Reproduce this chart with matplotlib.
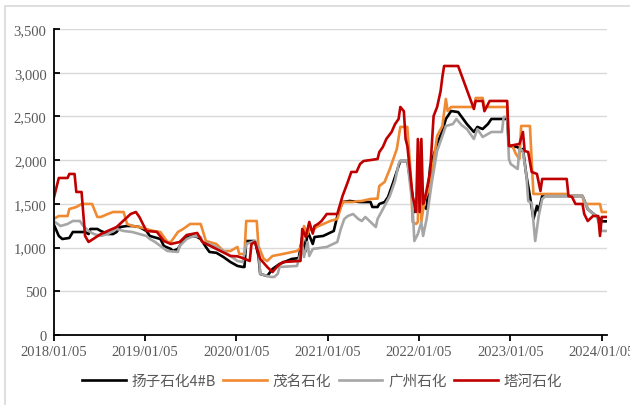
import numpy as np
import pandas as pd
import matplotlib
matplotlib.use("Agg")
import matplotlib.pyplot as plt
import matplotlib.dates as mdates
from matplotlib.patches import Rectangle

# weekly series, x = week number counted from 2018/01/05
start = pd.Timestamp("2018-01-05")

yz_weeks = [0, 3, 5, 9, 11, 18, 20, 21, 25, 27, 31, 34, 36, 38, 42, 45, 49, 53, 55, 57, 61, 63, 67, 68, 71,
            72, 74, 76, 80, 82, 84, 87, 89, 93, 97, 101, 105, 108, 109, 110, 115, 117, 118, 122, 125, 129,
            136, 140, 142, 144, 145, 148, 149, 154, 160, 162, 165, 169, 175, 181, 182, 185, 186, 189, 191,
            194, 197, 198, 202, 205, 206, 208, 211, 213, 215, 219, 222, 224, 227, 231, 236, 240, 242, 245,
            248, 250, 259, 260, 265, 267, 268, 270, 272, 274, 276, 277, 279, 302, 305, 307, 312, 313, 316]
yz_vals = [1270, 1133, 1098, 1110, 1178, 1178, 1155, 1213, 1213, 1190, 1155, 1155, 1178, 1235, 1247, 1247,
           1235, 1190, 1133, 1121, 1098, 1018, 984, 961, 984, 1018, 1075, 1121, 1133, 1121, 1098, 1007, 950,
           940, 892, 835, 790, 778, 778, 1075, 1075, 904, 698, 675, 755, 812, 870, 880, 1121, 961, 1190,
           1041, 1121, 1133, 1190, 1361, 1521, 1533, 1521, 1521, 1464, 1464, 1499, 1521, 1579, 1750, 1933,
           1990, 1990, 1590, 1407, 1441, 1476, 1441, 1922, 2185, 2334, 2471, 2562, 2550, 2413, 2322, 2380,
           2356, 2413, 2471, 2471, 2162, 2150, 2105, 2128, 1819, 1590, 1327, 1476, 1420, 1590, 1590, 1441,
           1407, 1327, 1300, 1300]

mm_weeks = [0, 3, 8, 9, 13, 16, 22, 25, 27, 31, 34, 40, 42, 45, 49, 53, 57, 61, 65, 67, 71, 74, 78, 84, 87,
            93, 97, 101, 105, 106, 109, 110, 116, 117, 120, 122, 125, 131, 139, 142, 143, 145, 146, 148, 150,
            158, 162, 165, 171, 173, 176, 181, 185, 186, 189, 192, 194, 196, 198, 202, 204, 205, 207, 208,
            209, 210, 212, 215, 219, 222, 224, 225, 227, 240, 241, 245, 246, 259, 260, 262, 264, 266, 267,
            272, 273, 274, 293, 294, 302, 303, 312, 313, 316]
mm_vals = [1327, 1361, 1361, 1441, 1464, 1499, 1499, 1350, 1350, 1384, 1407, 1407, 1270, 1247, 1235, 1213,
           1190, 1178, 1064, 1064, 1178, 1213, 1270, 1270, 1075, 1041, 961, 961, 1007, 927, 927, 1304, 1304,
           1018, 870, 847, 904, 927, 961, 1018, 1247, 1150, 1213, 1190, 1235, 1304, 1327, 1521, 1521, 1530,
           1533, 1556, 1560, 1705, 1750, 1899, 2013, 2128, 2380, 2380, 1819, 1293, 1270, 1293, 2200, 1300,
           1556, 1700, 2276, 2391, 2700, 2562, 2608, 2608, 2711, 2711, 2608, 2608, 2162, 2162, 2070, 2013,
           2391, 2391, 1990, 1613, 1613, 1590, 1590, 1499, 1499, 1407, 1407]

gz_weeks = [0, 4, 8, 11, 15, 17, 20, 23, 27, 31, 34, 36, 40, 45, 49, 53, 55, 58, 61, 65, 71, 72, 76, 80, 84,
            85, 89, 93, 97, 101, 105, 108, 110, 115, 117, 118, 124, 126, 128, 129, 139, 142, 143, 145, 146,
            148, 156, 162, 164, 166, 168, 171, 174, 176, 178, 181, 184, 185, 189, 192, 195, 197, 198, 202,
            205, 206, 208, 210, 211, 213, 216, 219, 222, 224, 228, 230, 233, 236, 240, 242, 245, 250, 256,
            257, 259, 260, 261, 265, 266, 268, 270, 271, 273, 275, 277, 279, 281, 302, 305, 307, 310, 313, 316]
gz_vals = [1304, 1247, 1270, 1304, 1304, 1247, 1190, 1155, 1133, 1155, 1190, 1213, 1190, 1178, 1155, 1133,
           1098, 1064, 1018, 961, 950, 1018, 1098, 1133, 1121, 1064, 1041, 1007, 961, 904, 847, 835, 1041,
           1075, 1000, 698, 664, 664, 698, 778, 790, 1007, 892, 1064, 904, 984, 1007, 1064, 1213, 1327, 1361,
           1384, 1327, 1304, 1350, 1293, 1235, 1327, 1476, 1590, 1762, 1956, 1990, 1990, 1476, 1075, 1155,
           1293, 1133, 1327, 1750, 2105, 2276, 2391, 2413, 2471, 2400, 2356, 2242, 2356, 2265, 2322, 2322,
           2494, 2494, 2013, 1956, 1899, 2128, 2105, 1819, 1533, 1510, 1075, 1361, 1556, 1590, 1590, 1441,
           1407, 1361, 1190, 1190]

th_weeks = [0, 3, 8, 9, 12, 13, 16, 18, 20, 27, 36, 44, 47, 49, 53, 59, 63, 67, 72, 76, 82, 85, 93, 101, 105,
            108, 112, 113, 115, 116, 118, 122, 125, 128, 131, 141, 142, 144, 146, 148, 149, 151, 153, 156,
            162, 165, 168, 170, 173, 175, 177, 185, 186, 188, 190, 193, 195, 197, 198, 200, 201, 202, 205,
            207, 208, 209, 210, 211, 212, 215, 217, 219, 221, 222, 223, 231, 240, 241, 245, 246, 249, 259,
            260, 266, 268, 269, 271, 273, 276, 278, 279, 293, 294, 296, 298, 302, 303, 305, 308, 311, 312,
            313, 316]
th_vals = [1556, 1796, 1796, 1842, 1842, 1636, 1636, 1133, 1064, 1155, 1235, 1384, 1407, 1350, 1190, 1180,
           1075, 1041, 1064, 1144, 1167, 1064, 984, 904, 900, 880, 847, 1041, 1064, 1000, 870, 778, 720, 790,
           835, 847, 1213, 1121, 1293, 1160, 1247, 1270, 1304, 1384, 1384, 1590, 1750, 1865, 1865, 1956,
           1990, 2013, 2093, 2150, 2242, 2322, 2413, 2471, 2608, 2560, 2242, 2162, 1590, 1407, 2242, 1407,
           2242, 1500, 1556, 1865, 2505, 2608, 2791, 2951, 3077, 3077, 2585, 2677, 2677, 2560, 2677, 2677,
           2162, 2185, 2322, 2105, 2093, 1865, 1842, 1647, 1785, 1785, 1590, 1580, 1499, 1499, 1384, 1304,
           1361, 1361, 1133, 1350, 1350]

series = [
    ("扬子石化4#B", yz_weeks, yz_vals, "#000000"),
    ("茂名石化", mm_weeks, mm_vals, "#F08A32"),
    ("广州石化", gz_weeks, gz_vals, "#A6A6A6"),
    ("塔河石化", th_weeks, th_vals, "#C00000"),
]
tick_years = [2018, 2019, 2020, 2021, 2022, 2023, 2024]

plt.rcParams["font.family"] = ["Liberation Serif", "Noto Sans CJK SC", "DejaVu Sans"]

fig = plt.figure(figsize=(6.3, 4.06), dpi=100)
ax = fig.add_axes([0.085, 0.1724, 0.8785, 0.7537])

# light frame around the whole chart
fig.patches.append(Rectangle((5 / 630, -0.5), 2, 1.5 - 7 / 406, transform=fig.transFigure,
                             fill=False, edgecolor="#D9D9D9", linewidth=1.2))

for name, wk, vals, col in series:
    dates = start + pd.to_timedelta(np.array(wk) * 7, unit="D")
    ax.plot(dates, vals, color=col, linewidth=1.9, label=name)

ax.set_ylim(0, 3500)
ax.set_yticks(range(0, 3501, 500))
ax.yaxis.set_major_formatter(matplotlib.ticker.FuncFormatter(lambda v, p: f"{int(v):,}"))
ax.set_xlim(start, start + pd.Timedelta(days=316 * 7))
ax.set_xticks([pd.Timestamp(f"{y}-01-05") for y in tick_years])
ax.xaxis.set_major_formatter(mdates.DateFormatter("%Y/%m/%d"))

ax.grid(axis="y", color="#D9D9D9", linewidth=1)
ax.set_axisbelow(True)
for s in ["top", "right"]:
    ax.spines[s].set_visible(False)
for s in ["left", "bottom"]:
    ax.spines[s].set_linewidth(1.3)
ax.tick_params(axis="y", direction="in", length=4, width=1.3, labelsize=10.5,
               labelcolor="#595959", pad=5)
ax.tick_params(axis="x", direction="out", length=4, width=1.3, labelsize=10.5,
               labelcolor="#595959", pad=3)

leg = fig.legend(loc="center", bbox_to_anchor=(322 / 630, 1 - 382 / 406), ncol=4, frameon=False,
                 handlelength=3.0, handletextpad=0.4, columnspacing=0.5,
                 prop={"family": ["Noto Sans CJK SC"], "size": 10.5})
for t in leg.get_texts():
    t.set_color("#595959")

fig.savefig("out.png", dpi=100)
